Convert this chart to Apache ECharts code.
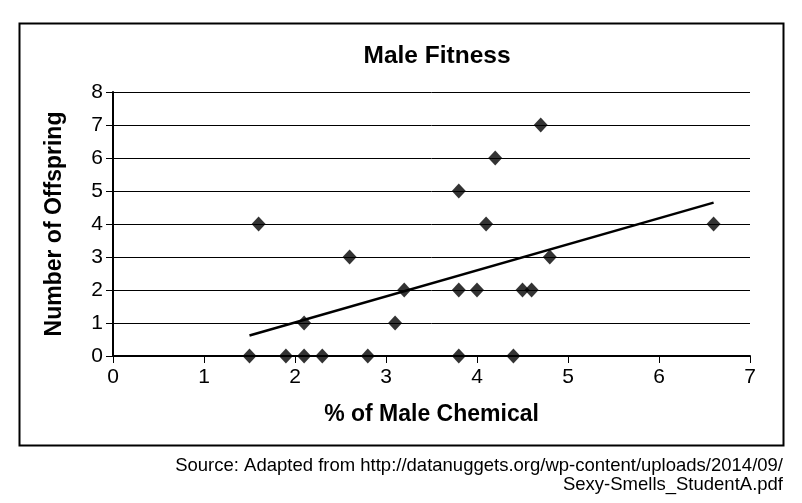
<!DOCTYPE html>
<html>
<head>
<meta charset="utf-8">
<script src="https://cdn.jsdelivr.net/npm/echarts@6/dist/echarts.min.js"></script>
<style>
  html, body { margin: 0; padding: 0; background: #fff; }
  #chart { width: 802px; height: 503px; }
</style>
</head>
<body>
<div id="chart"></div>
<script>
// % of male chemical vs number of offspring
const chemical = [1.5, 1.6, 1.9, 2.1, 2.1, 2.3, 2.6, 2.8, 3.1, 3.2, 3.8, 3.8, 3.8, 4.0, 4.1, 4.2, 4.4, 4.5, 4.6, 4.7, 4.8, 6.6];
const offspring = [0, 4, 0, 0, 1, 0, 3, 0, 1, 2, 5, 2, 0, 2, 4, 6, 0, 2, 2, 7, 3, 4];
const xTicks = [0, 1, 2, 3, 4, 5, 6, 7];
const yTicks = [0, 1, 2, 3, 4, 5, 6, 7, 8];
const sourceLines = [
  'Source: Adapted from http://datanuggets.org/wp-content/uploads/2014/09/',
  'Sexy-Smells_StudentA.pdf'
];

// linear trendline (least squares), like the spreadsheet one
const n = chemical.length;
const mx = chemical.reduce((a, b) => a + b, 0) / n;
const my = offspring.reduce((a, b) => a + b, 0) / n;
let sxy = 0, sxx = 0;
for (let i = 0; i < n; i++) {
  sxy += (chemical[i] - mx) * (offspring[i] - my);
  sxx += (chemical[i] - mx) * (chemical[i] - mx);
}
const slope = sxy / sxx;
const intercept = my - slope * mx;
const xMin = Math.min(...chemical), xMax = Math.max(...chemical);
const trend = [[xMin, intercept + slope * xMin], [xMax, intercept + slope * xMax]];

const font = 'Liberation Sans, Arial, sans-serif';
const chart = echarts.init(document.getElementById('chart'));
const option = {
  animation: false,
  backgroundColor: '#fff',
  title: {
    text: 'Male Fitness',
    left: 432,
    top: 39,
    textAlign: 'center',
    textStyle: { fontFamily: font, fontSize: 24.5, fontWeight: 'bold', color: '#000' }
  },
  grid: { left: 113, right: 52, top: 92, bottom: 147 },
  xAxis: {
    type: 'value',
    min: xTicks[0],
    max: xTicks[xTicks.length - 1],
    interval: 1,
    name: '% of Male Chemical',
    nameLocation: 'middle',
    nameGap: 47,
    nameTextStyle: { fontFamily: font, fontSize: 23, fontWeight: 'bold', color: '#000' },
    axisLine: { lineStyle: { color: '#000', width: 2 } },
    axisTick: { length: 7, lineStyle: { color: '#000' } },
    axisLabel: { fontFamily: font, fontSize: 21, color: '#000', margin: 11 },
    splitLine: { show: false }
  },
  yAxis: {
    type: 'value',
    min: yTicks[0],
    max: yTicks[yTicks.length - 1],
    interval: 1,
    name: 'Number of Offspring',
    nameLocation: 'middle',
    nameGap: 47,
    nameTextStyle: { fontFamily: font, fontSize: 23, fontWeight: 'bold', color: '#000' },
    axisLine: { show: true, lineStyle: { color: '#000', width: 2 } },
    axisTick: { show: true, length: 7, lineStyle: { color: '#000' } },
    axisLabel: { fontFamily: font, fontSize: 21, color: '#000', margin: 10 },
    splitLine: { lineStyle: { color: '#000', width: 1 } }
  },
  graphic: [
    {
      type: 'rect',
      shape: { x: 19.5, y: 23.5, width: 764, height: 422 },
      style: { fill: 'none', stroke: '#000', lineWidth: 2 },
      silent: true
    }
  ].concat(sourceLines.map((line, i) => ({
    type: 'text',
    right: 19,
    top: 456 + i * 19,
    style: {
      text: line,
      fontFamily: font,
      fontSize: 18.5,
      fill: '#000'
    }
  }))),
  series: [
    {
      type: 'line',
      data: trend,
      showSymbol: false,
      lineStyle: { color: '#000', width: 2.5 },
      z: 3
    },
    {
      type: 'scatter',
      data: chemical.map((x, i) => [x, offspring[i]]),
      symbol: 'diamond',
      symbolSize: [14, 15],
      itemStyle: { color: '#000' },
      z: 4
    }
  ]
};
chart.setOption(option);
</script>
</body>
</html>
